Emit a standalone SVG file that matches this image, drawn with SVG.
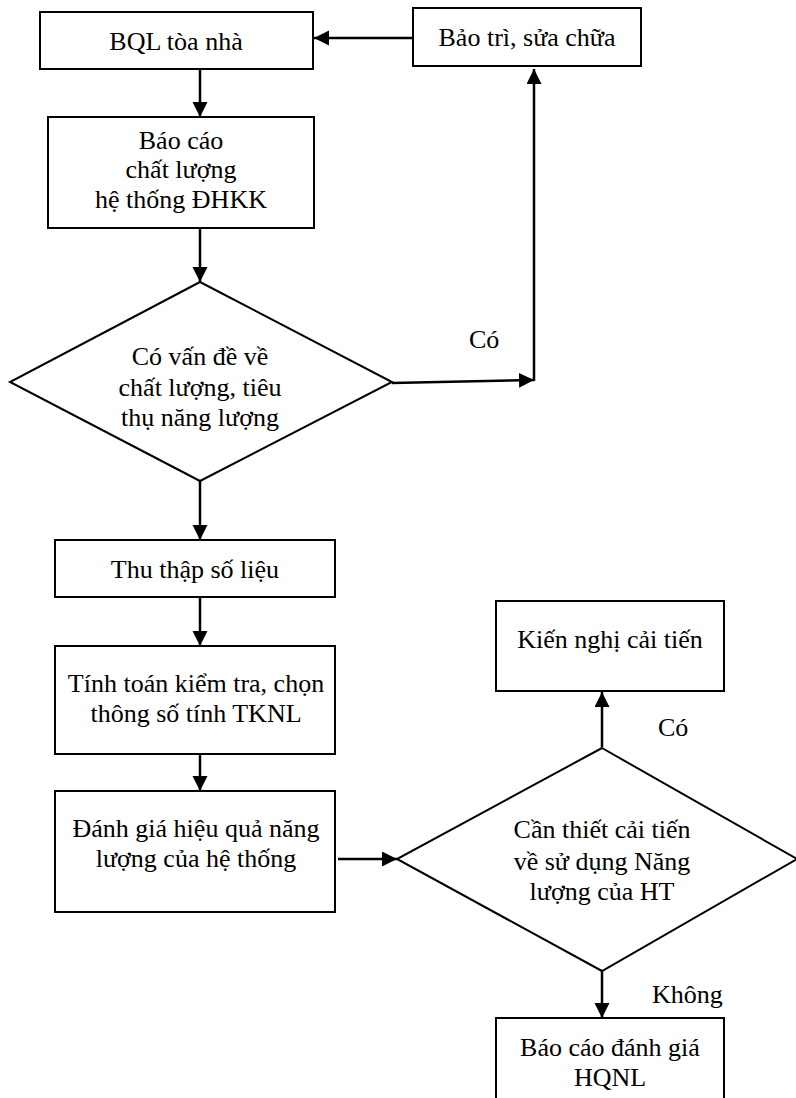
<svg xmlns="http://www.w3.org/2000/svg" width="796" height="1098" viewBox="0 0 796 1098">
<style>
.box{fill:#fff;stroke:#000;stroke-width:2}
.dia{fill:#fff;stroke:#000;stroke-width:2}
.t{font-family:"Liberation Serif","Times New Roman",serif;font-size:26px;fill:#000;text-anchor:middle}
.lbl{font-family:"Liberation Serif","Times New Roman",serif;font-size:26px;fill:#000}
.c{fill:none;stroke:#000;stroke-width:2.5}
</style>
<defs>
<marker id="ah" markerUnits="userSpaceOnUse" markerWidth="16" markerHeight="16" refX="15" refY="7.5" orient="auto">
<path d="M0,0 L15,7.5 L0,15 Z" fill="#000"/>
</marker>
</defs>
<rect width="796" height="1098" fill="#fff"/>
<g id="connectors">
<path class="c" d="M413,38 L314,38" marker-end="url(#ah)"/>
<path class="c" d="M200,69 L200,117" marker-end="url(#ah)"/>
<path class="c" d="M200,228 L200,282" marker-end="url(#ah)"/>
<path class="c" d="M392,383 L534,380" marker-end="url(#ah)"/>
<path class="c" d="M534,381 L534,69" marker-end="url(#ah)"/>
<path class="c" d="M200,481 L200,540" marker-end="url(#ah)"/>
<path class="c" d="M200,597 L200,646" marker-end="url(#ah)"/>
<path class="c" d="M200,754 L200,791" marker-end="url(#ah)"/>
<path class="c" d="M338,859 L397,859" marker-end="url(#ah)"/>
<path class="c" d="M602,747 L602,692" marker-end="url(#ah)"/>
<path class="c" d="M602,971 L602,1018" marker-end="url(#ah)"/>
<text class="lbl" x="469" y="348">Có</text>
<text class="lbl" x="658" y="736">Có</text>
<text class="lbl" x="652" y="1003">Không</text>
</g>
<g id="n1">
<rect class="box" x="40" y="12" width="273" height="57"/>
<text class="t" x="176" y="50">BQL tòa nhà</text>
</g>
<g id="n2">
<rect class="box" x="413" y="8" width="228" height="58"/>
<text class="t" x="527" y="46">Bảo trì, sửa chữa</text>
</g>
<g id="n3">
<rect class="box" x="48" y="117" width="266" height="111"/>
<text class="t" x="181" y="149">Báo cáo</text>
<text class="t" x="181" y="178">chất lượng</text>
<text class="t" x="181" y="208">hệ thống ĐHKK</text>
</g>
<g id="n4">
<polygon class="dia" points="200,282 392,382 200,481 10,382"/>
<text class="t" x="200" y="365">Có vấn đề về</text>
<text class="t" x="200" y="396">chất lượng, tiêu</text>
<text class="t" x="200" y="426">thụ năng lượng</text>
</g>
<g id="n5">
<rect class="box" x="55" y="540" width="280" height="57"/>
<text class="t" x="195" y="578">Thu thập số liệu</text>
</g>
<g id="n6">
<rect class="box" x="55" y="646" width="280" height="108"/>
<text class="t" x="196" y="692">Tính toán kiểm tra, chọn</text>
<text class="t" x="196" y="722">thông số tính TKNL</text>
</g>
<g id="n7">
<rect class="box" x="55" y="791" width="280" height="121"/>
<text class="t" x="196" y="837">Đánh giá hiệu quả năng</text>
<text class="t" x="196" y="867">lượng của hệ thống</text>
</g>
<g id="n8">
<polygon class="dia" points="602,748 797,859 602,971 397,859"/>
<text class="t" x="602" y="838">Cần thiết cải tiến</text>
<text class="t" x="602" y="870">về sử dụng Năng</text>
<text class="t" x="602" y="900">lượng của HT</text>
</g>
<g id="n9">
<rect class="box" x="496" y="601" width="228" height="90"/>
<text class="t" x="610" y="648">Kiến nghị cải tiến</text>
</g>
<g id="n10">
<rect class="box" x="496" y="1018" width="228" height="100"/>
<text class="t" x="610" y="1056">Báo cáo đánh giá</text>
<text class="t" x="610" y="1086">HQNL</text>
</g>
</svg>
